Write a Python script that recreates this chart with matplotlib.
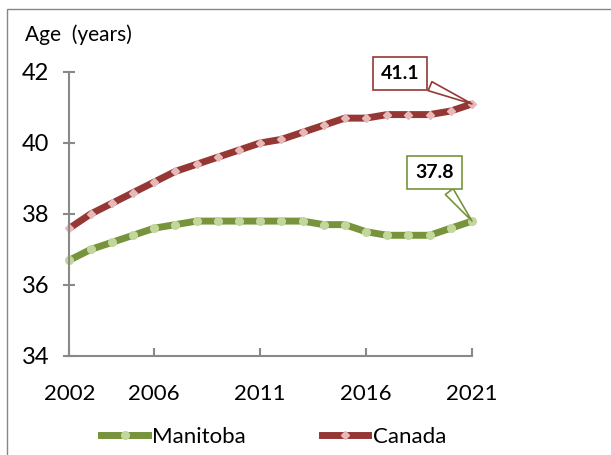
import matplotlib
matplotlib.use("Agg")
import matplotlib.pyplot as plt
from matplotlib.patches import Rectangle
from matplotlib.lines import Line2D

years = list(range(2002, 2022))
manitoba = [36.7, 37.0, 37.2, 37.4, 37.6, 37.7, 37.8, 37.8, 37.8, 37.8,
            37.8, 37.8, 37.7, 37.7, 37.5, 37.4, 37.4, 37.4, 37.6, 37.8]
canada = [37.6, 38.0, 38.3, 38.6, 38.9, 39.2, 39.4, 39.6, 39.8, 40.0,
          40.1, 40.3, 40.5, 40.7, 40.7, 40.8, 40.8, 40.8, 40.9, 41.1]
xticks = [2002, 2006, 2011, 2016, 2021]
yticks = [34, 36, 38, 40, 42]

plt.rcParams['font.family'] = ['Lato', 'DejaVu Sans']

fig = plt.figure(figsize=(6.11, 4.55), dpi=100)
ax = fig.add_axes([0.1137, 0.2176, 0.6588, 0.6242])

green, green_m = "#77933C", "#C3D69B"
red, red_m = "#953735", "#E6B9B8"
grey = "#898989"

ax.plot(years, manitoba, color=green, lw=5, marker="o", ms=5.5,
        mfc=green_m, mec=green_m, solid_capstyle="butt", clip_on=False)
ax.plot(years, canada, color=red, lw=5, marker="D", ms=4,
        mfc=red_m, mec=red_m, solid_capstyle="butt", clip_on=False)

ax.set_xlim(2002, 2021)
ax.set_ylim(34, 42)
ax.set_xticks(xticks)
ax.set_yticks(yticks)
for s in ["top", "right"]:
    ax.spines[s].set_visible(False)
for s in ["left", "bottom"]:
    ax.spines[s].set_color(grey)
    ax.spines[s].set_linewidth(1.5)
ax.tick_params(axis="y", direction="inout", length=9, width=1.5, color=grey,
               labelsize=17, pad=10)
ax.tick_params(axis="x", direction="in", length=5.5, width=1.5, color=grey,
               labelsize=16, pad=20)

fig.text(25 / 611, 1 - 35 / 455, "Age  (years)", fontsize=15, va="center", ha="left")

# callout labels
for y, txt, col, off in [(canada, "41.1", red, (-52, 22)), (manitoba, "37.8", green, (-27, 35))]:
    ax.annotate(txt, xy=(years[-1], y[-1]), xytext=off, textcoords="offset points",
                fontsize=14, fontweight="bold", ha="center", va="center",
                bbox=dict(boxstyle="square,pad=0.4", fc="white", ec=col, lw=1.2),
                arrowprops=dict(arrowstyle="wedge,tail_width=0.5", fc="white", ec=col,
                                lw=1.2, shrinkB=0),
                annotation_clip=False)

handles = [Line2D([], [], color=green, lw=5, marker="o", ms=5.5, mfc=green_m, mec=green_m),
           Line2D([], [], color=red, lw=5, marker="D", ms=4, mfc=red_m, mec=red_m)]
fig.legend(handles, ["Manitoba", "Canada"], loc="center", bbox_to_anchor=(0.448, 1 - 437 / 455),
           ncol=2, frameon=False, fontsize=16, handlelength=2.1, handletextpad=0.2,
           columnspacing=3.4)

fig.add_artist(Rectangle((7 / 611, -0.1), 2, 1 - 9 / 455 + 0.1, transform=fig.transFigure,
                         fill=False, ec="#868686", lw=1))

fig.savefig("out.png", dpi=100)
